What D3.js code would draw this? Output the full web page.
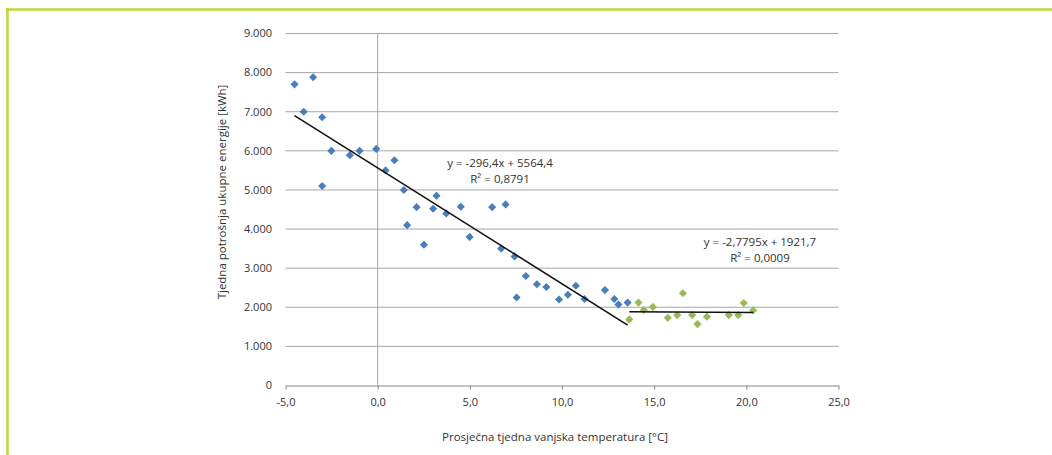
<!DOCTYPE html>
<html><head><meta charset="utf-8">
<script src="https://cdn.jsdelivr.net/npm/d3@7"></script>
<style>
body{margin:0;background:#fff;}
svg text{font-family:"Open Sans","Noto Sans",sans-serif;fill:#333;}
</style></head>
<body><svg id="c" width="1052" height="455"></svg>
<script>
// Heating season (blue) weekly points
const blueX = [-4.51,-3.50,-4.01,-3.01,-2.51,-1.51,-0.98,-0.08,-3.01,0.43,0.91,1.42,2.11,3.01,4.51,1.60,3.72,2.51,4.99,3.19,6.21,6.94,6.70,7.43,8.04,7.54,8.64,9.15,9.84,10.32,10.75,11.22,12.33,12.84,13.06,13.56];
const blueY = [7700,7880,7000,6860,6000,5890,6000,6050,5100,5500,5760,5000,4560,4520,4570,4100,4400,3600,3800,4850,4560,4630,3500,3300,2800,2250,2590,2520,2200,2320,2550,2210,2440,2210,2070,2120];
// Non-heating season (green) weekly points
const greenX = [13.65,14.15,14.44,14.93,15.74,16.25,16.56,17.06,17.35,17.86,19.05,19.56,19.86,20.37];
const greenY = [1690,2120,1930,2010,1730,1800,2360,1800,1570,1760,1800,1800,2110,1920];
// Trendline coefficients [slope, intercept] and labels
const blueTrend = [-296.4, 5564.4];
const greenTrend = [-2.7795, 1921.7];
const blueLabel = ["y = -296,4x + 5564,4", "R² = 0,8791"];
const greenLabel = ["y = -2,7795x + 1921,7", "R² = 0,0009"];
const xTicks = [-5,0,5,10,15,20,25];
const xTickLabels = ["-5,0","0,0","5,0","10,0","15,0","20,0","25,0"];
const yTicks = [0,1000,2000,3000,4000,5000,6000,7000,8000,9000];
const yTickLabels = ["0","1.000","2.000","3.000","4.000","5.000","6.000","7.000","8.000","9.000"];
const xTitle = "Prosječna tjedna vanjska temperatura [°C]";
const yTitle = "Tjedna potrošnja ukupne energije [kWh]";

const svg = d3.select("#c");
const x = d3.scaleLinear().domain([-5,25]).range([285.5,838.5]);
const y = d3.scaleLinear().domain([0,9000]).range([385.5,33.5]);

// border
svg.append("line").attr("x1",6).attr("x2",1052).attr("y1",9.5).attr("y2",9.5).attr("stroke","#bfd63a").attr("stroke-width",2.5);
svg.append("line").attr("x1",7.5).attr("x2",7.5).attr("y1",8.3).attr("y2",455).attr("stroke","#bfd63a").attr("stroke-width",2.5);

// gridlines
svg.append("g").selectAll("line").data(yTicks.filter(d=>d>0)).join("line")
  .attr("x1",x(-5)).attr("x2",x(25)).attr("y1",d=>y(d)).attr("y2",d=>y(d))
  .attr("stroke","#a6a6a6").attr("stroke-width",1);

// y tick labels
svg.append("g").selectAll("text").data(yTicks).join("text")
  .attr("x",272).attr("y",d=>y(d)).attr("dy","0.35em").attr("text-anchor","end")
  .attr("font-size",11).text((d,i)=>yTickLabels[i]);

// x axis
const xAxis = d3.axisBottom(x).tickValues(xTicks).tickFormat((d,i)=>xTickLabels[i]).tickSize(4).tickSizeOuter(0).tickPadding(9);
const gx = svg.append("g").attr("transform",`translate(0,${y(0)})`).call(xAxis);
gx.select(".domain").attr("stroke","#868686");
gx.selectAll(".tick line").attr("stroke","#868686");
gx.selectAll(".tick text").attr("font-size",11).attr("fill","#333")
  .style("font-family",'"Open Sans","Noto Sans",sans-serif');

// vertical axis line at x=0
svg.append("line").attr("x1",x(0)).attr("x2",x(0)).attr("y1",y(9000)).attr("y2",y(0))
  .attr("stroke","#a6a6a6").attr("stroke-width",1);

// titles
svg.append("text").attr("x",555).attr("y",441).attr("text-anchor","middle").attr("font-size",11.5).text(xTitle);
svg.append("text").attr("transform","translate(226,192) rotate(-90)").attr("text-anchor","middle").attr("font-size",11.5).text(yTitle);

// points
const diamond = d3.symbol().type(d3.symbolDiamond2).size(42);
svg.append("g").selectAll("path").data(blueX.map((v,i)=>[v,blueY[i]])).join("path")
  .attr("d",diamond).attr("transform",d=>`translate(${x(d[0])},${y(d[1])})`).attr("fill","#4a7ebb");
svg.append("g").selectAll("path").data(greenX.map((v,i)=>[v,greenY[i]])).join("path")
  .attr("d",diamond).attr("transform",d=>`translate(${x(d[0])},${y(d[1])})`).attr("fill","#98b954");

// trendlines
function trend(xs, c){
  const e = d3.extent(xs);
  svg.append("line").attr("x1",x(e[0])).attr("x2",x(e[1]))
    .attr("y1",y(c[0]*e[0]+c[1])).attr("y2",y(c[0]*e[1]+c[1]))
    .attr("stroke","#111").attr("stroke-width",1.6);
}
trend(blueX, blueTrend);
trend(greenX, greenTrend);

// labels
function label(lines, cx, by){
  lines.forEach((t,i)=>{
    svg.append("text").attr("x",cx).attr("y",by+i*16).attr("text-anchor","middle")
      .attr("font-size",11.5).text(t);
  });
}
label(blueLabel, 500, 167);
label(greenLabel, 760, 246);
</script></body></html>
